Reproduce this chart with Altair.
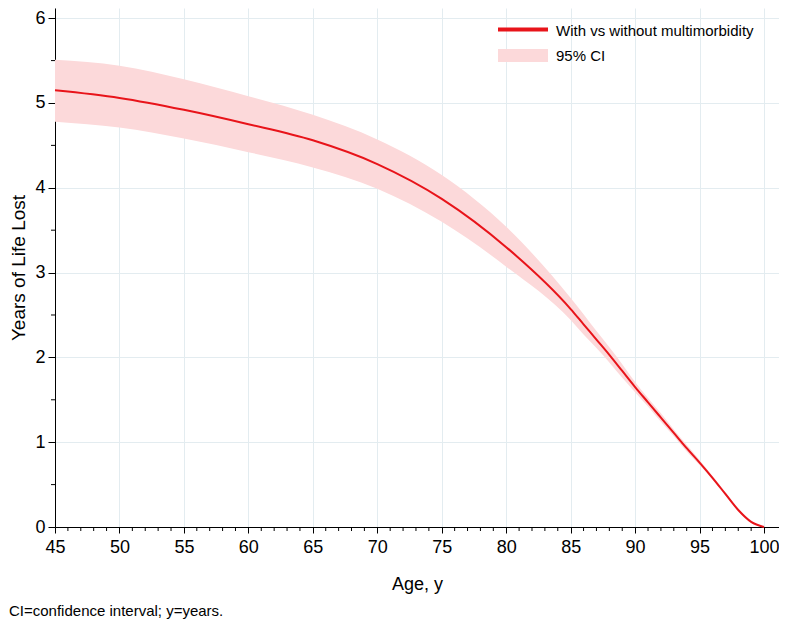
import altair as alt
import pandas as pd

# Data
ages = [45, 50, 55, 60, 65, 70, 75, 80, 85, 86, 87, 88, 89, 90, 91, 92, 93, 94, 95, 96, 97, 98, 99, 100]
yll = [5.15, 5.06, 4.92, 4.75, 4.56, 4.28, 3.87, 3.30, 2.57, 2.39, 2.21, 2.03, 1.84, 1.65, 1.47, 1.29, 1.11, 0.93, 0.76, 0.58, 0.39, 0.20, 0.06, 0.0]
ci_low = [4.78, 4.71, 4.58, 4.42, 4.24, 3.99, 3.60, 3.07, 2.44, 2.27, 2.11, 1.94, 1.76, 1.59, 1.42, 1.24, 1.07, 0.89, 0.73, 0.56, 0.37, 0.19, 0.06, 0.0]
ci_high = [5.51, 5.44, 5.28, 5.08, 4.86, 4.57, 4.15, 3.54, 2.70, 2.51, 2.31, 2.12, 1.92, 1.71, 1.52, 1.34, 1.15, 0.97, 0.79, 0.60, 0.41, 0.21, 0.06, 0.0]

x_major = [45, 50, 55, 60, 65, 70, 75, 80, 85, 90, 95, 100]
x_minor = [a for a in range(46, 100) if a % 5 != 0]
y_major = [0, 1, 2, 3, 4, 5, 6]
y_minor = [0.5, 1.5, 2.5, 3.5, 4.5, 5.5]

legend_line = "With vs without multimorbidity"
legend_ci = "95% CI"
caption = "CI=confidence interval; y=years."

RED = "#e8141a"
PINK = "#fcd9da"
GRID = "#e3ecf0"
FONT = "Liberation Sans"

df = pd.DataFrame({"age": ages, "yll": yll, "lo": ci_low, "hi": ci_high})
xs = alt.Scale(domain=[45, 101.16], nice=False, zero=False)
ys = alt.Scale(domain=[0, 6.12], nice=False)

x_axis = alt.Axis(values=x_major, format="d", title="Age, y", grid=True, gridColor=GRID, gridWidth=1,
                  domainColor="black", tickColor="black", tickSize=6, labelPadding=5,
                  labelFontSize=18, labelFont=FONT, labelColor="black",
                  titleFontSize=18, titleFont=FONT, titleFontWeight="normal", titleColor="black",
                  titlePadding=19, labelFlush=False)
y_axis = alt.Axis(values=y_major, format="d", title="Years of Life Lost", grid=True, gridColor=GRID, gridWidth=1,
                  domainColor="black", tickColor="black", tickSize=7, labelPadding=3,
                  labelFontSize=18, labelFont=FONT, labelColor="black",
                  titleFontSize=19, titleFont=FONT, titleFontWeight="normal", titleColor="black",
                  titlePadding=6, labelFlush=False)

band = alt.Chart(df).mark_area(color=PINK, opacity=1, interpolate="monotone").encode(
    x=alt.X("age:Q", scale=xs, axis=x_axis),
    y=alt.Y("lo:Q", scale=ys, axis=y_axis),
    y2="hi:Q",
)
line = alt.Chart(df).mark_line(color=RED, strokeWidth=2, interpolate="monotone").encode(
    x=alt.X("age:Q", scale=xs),
    y=alt.Y("yll:Q", scale=ys),
)

xminor = alt.Chart(pd.DataFrame({"age": x_minor})).mark_rule(color="black", strokeWidth=1).encode(
    x=alt.X("age:Q", scale=xs), y=alt.value(519), y2=alt.value(523)
)
yminor = alt.Chart(pd.DataFrame({"v": y_minor})).mark_rule(color="black", strokeWidth=1).encode(
    y=alt.Y("v:Q", scale=ys), x=alt.value(0), x2=alt.value(-4)
)

one = pd.DataFrame({"k": [0]})
leg_line = alt.Chart(one).mark_rule(color=RED, strokeWidth=4).encode(
    x=alt.value(443), x2=alt.value(493), y=alt.value(21.5)
)
leg_rect = alt.Chart(one).mark_rect(color=PINK).encode(
    x=alt.value(443), x2=alt.value(493), y=alt.value(41), y2=alt.value(54)
)
leg_t1 = alt.Chart(one).mark_text(align="left", baseline="middle", fontSize=15, font=FONT,
                                  color="black", text=legend_line).encode(x=alt.value(501), y=alt.value(23))
leg_t2 = alt.Chart(one).mark_text(align="left", baseline="middle", fontSize=15, font=FONT,
                                  color="black", text=legend_ci).encode(x=alt.value(501), y=alt.value(48))

cap = alt.Chart(one).mark_text(align="left", baseline="middle", fontSize=15, font=FONT, color="black",
                               text=caption).encode(x=alt.value(-46), y=alt.value(603))

chart = alt.layer(band, line, xminor, yminor, leg_line, leg_rect, leg_t1, leg_t2, cap).properties(
    width=724, height=519,
    autosize=alt.AutoSizeParams(type="none"),
    padding={"left": 47, "top": 0, "right": 0, "bottom": 93},
).configure_view(stroke=None)

chart.save("out.html", embed_options={"renderer": "svg", "actions": False})
